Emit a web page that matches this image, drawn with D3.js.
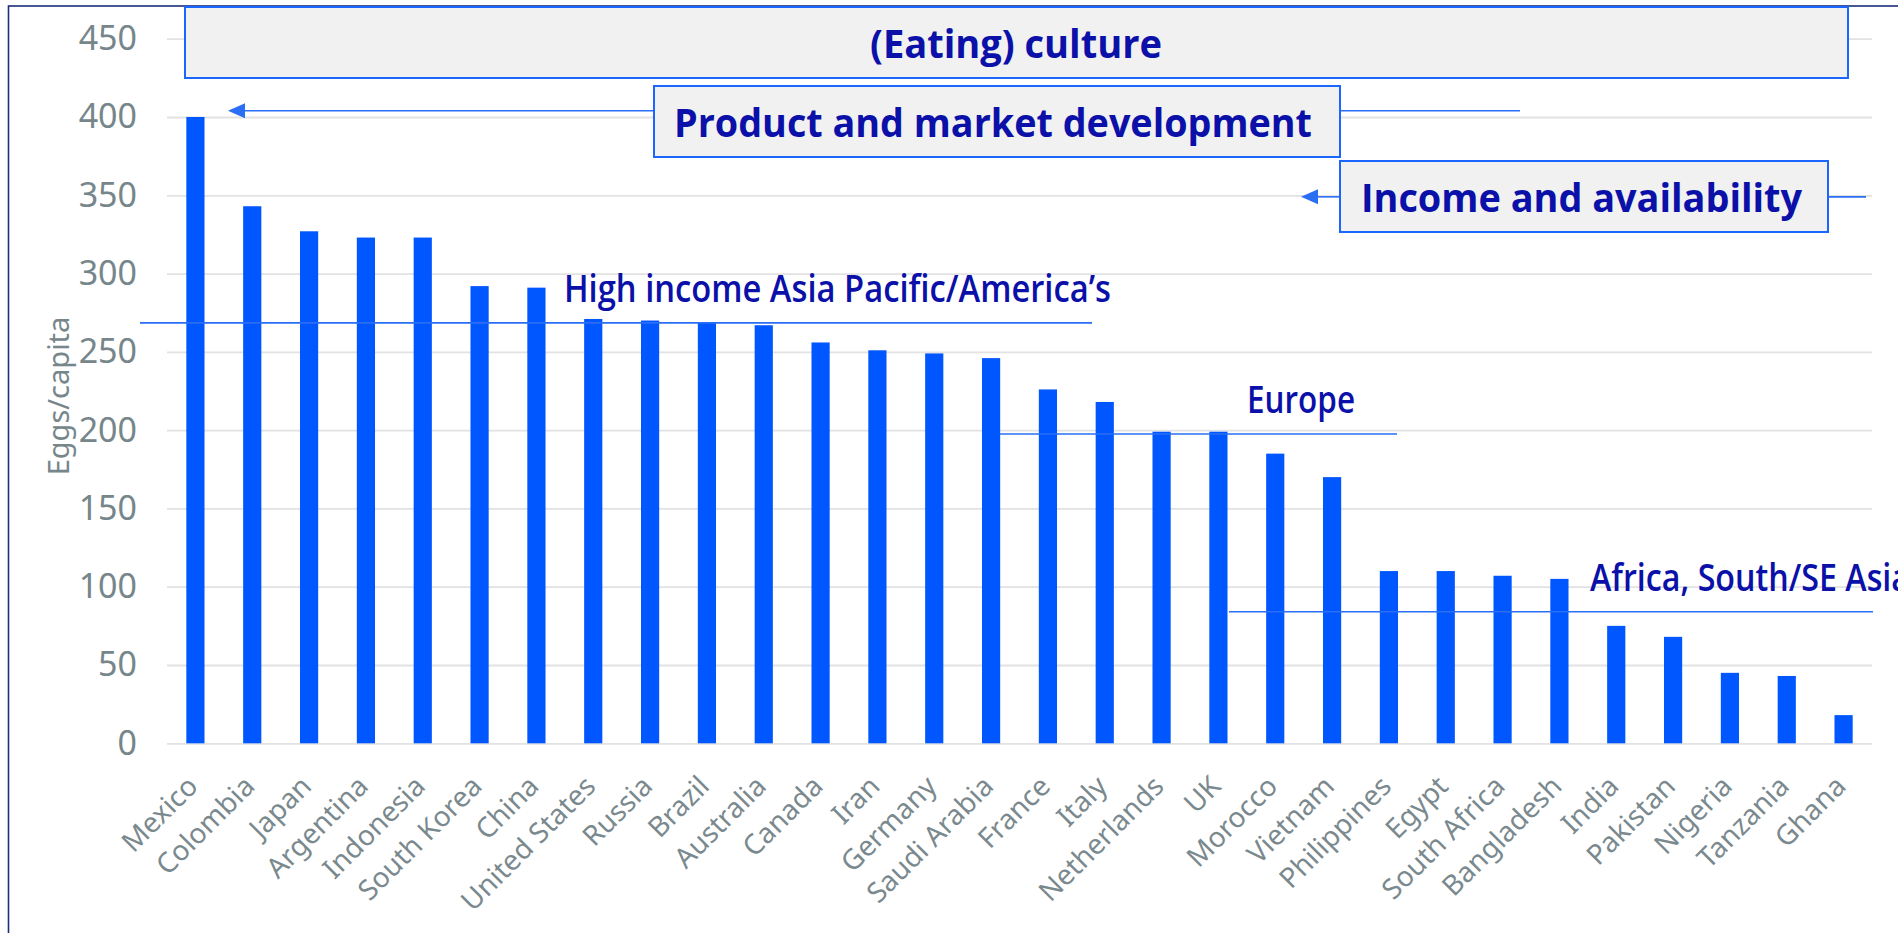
<!DOCTYPE html>
<html lang="en">
<head>
    <meta charset="UTF-8">
    <title>Eggs per capita</title>
    <script src="https://d3js.org/d3.v7.min.js"></script>
    <style>
        body {
            margin: 0;
            padding: 0;
            background: #fff;
            overflow: hidden;
        }
        .tick text {
            font-family: "Noto Sans", sans-serif;
            fill: #76868b;
        }
        .note {
            fill: #0a10a8;
            font-family: "Open Sans", sans-serif;
        }
    </style>
</head>
<body>
    <div id="chart"></div>

    <script>
        const countries = ["Mexico", "Colombia", "Japan", "Argentina", "Indonesia", "South Korea", "China",
            "United States", "Russia", "Brazil", "Australia", "Canada", "Iran", "Germany", "Saudi Arabia",
            "France", "Italy", "Netherlands", "UK", "Morocco", "Vietnam", "Philippines", "Egypt",
            "South Africa", "Bangladesh", "India", "Pakistan", "Nigeria", "Tanzania", "Ghana"];
        const eggs = [400, 343, 327, 323, 323, 292, 291, 271, 270, 269, 267, 256, 251, 249, 246,
            226, 218, 199, 199, 185, 170, 110, 110, 107, 105, 75, 68, 45, 43, 18];
        const yTicks = [0, 50, 100, 150, 200, 250, 300, 350, 400, 450];

        // region labels with the level of their line
        const regions = [
            { label: "High income Asia Pacific/America’s", level: 268.5, x1: 140, x2: 1092, tx: 564, tw: 547 },
            { label: "Europe", level: 197.5, x1: 1000, x2: 1397, tx: 1247, tw: 108 },
            { label: "Africa, South/SE Asia", level: 84, x1: 1229, x2: 1873, tx: 1590, tw: 320 }
        ];

        const width = 1898, height = 933;
        const svg = d3.select("#chart").append("svg")
            .attr("width", width)
            .attr("height", height);

        const x = d3.scaleBand()
            .domain(countries)
            .range([167, 1872])
            .paddingInner(0.68)
            .paddingOuter(0.34);

        const y = d3.scaleLinear()
            .domain([0, 450])
            .range([743.3, 38.7]);

        // outer frame (only top and left edge show)
        svg.append("rect")
            .attr("x", 8.5).attr("y", 6)
            .attr("width", 2000).attr("height", 1000)
            .attr("fill", "none")
            .attr("stroke", "#1b2f7a")
            .attr("stroke-width", 1.6);

        // y axis with gridlines
        const yAxis = svg.append("g")
            .attr("transform", "translate(167,0)")
            .call(d3.axisLeft(y).tickValues(yTicks).tickSize(-(1872 - 167)).tickPadding(30));
        yAxis.select(".domain").remove();
        yAxis.selectAll(".tick line").attr("stroke", "#e2e2e2").attr("stroke-width", 1.8);
        yAxis.selectAll(".tick text").style("font-size", "34px");

        svg.append("text")
            .attr("transform", "translate(69,396) rotate(-90)")
            .attr("text-anchor", "middle")
            .style("font-family", "Noto Sans, sans-serif")
            .style("font-size", "29px")
            .style("fill", "#76868b")
            .text("Eggs/capita");

        // bars
        svg.append("g")
            .selectAll("rect")
            .data(countries)
            .enter().append("rect")
            .attr("x", d => x(d))
            .attr("width", x.bandwidth())
            .attr("y", (d, i) => y(eggs[i]))
            .attr("height", (d, i) => y(0) - y(eggs[i]))
            .attr("fill", "#0057ff");

        // x labels
        svg.append("g")
            .selectAll("text")
            .data(countries)
            .enter().append("text")
            .attr("transform", d => `translate(${x(d) + x.bandwidth() / 2 + 4},788) rotate(-45)`)
            .attr("text-anchor", "end")
            .style("font-family", "Noto Sans, sans-serif")
            .style("font-size", "28px")
            .style("fill", "#7a898e")
            .text(d => d);

        // region lines + labels
        regions.forEach(r => {
            svg.append("line")
                .attr("x1", r.x1).attr("x2", r.x2)
                .attr("y1", y(r.level)).attr("y2", y(r.level))
                .attr("stroke", "#2a6ef5")
                .attr("stroke-width", 1.6);
            svg.append("text")
                .attr("class", "note")
                .attr("x", r.tx)
                .attr("y", y(r.level) - 21)
                .attr("textLength", r.tw)
                .attr("lengthAdjust", "spacingAndGlyphs")
                .style("font-size", "37px")
                .style("font-weight", 600)
                .text(r.label);
        });

        // driver boxes
        const arrowColor = "#2a6ef5";

        function arrowLine(x1, x2, yy) {
            svg.append("line")
                .attr("x1", x1 + 16).attr("x2", x2)
                .attr("y1", yy).attr("y2", yy)
                .attr("stroke", arrowColor)
                .attr("stroke-width", 1.6);
            svg.append("path")
                .attr("d", `M${x1},${yy} L${x1 + 17},${yy - 7.5} L${x1 + 17},${yy + 7.5} Z`)
                .attr("fill", arrowColor);
        }

        function box(x0, y0, x1, y1) {
            svg.append("rect")
                .attr("x", x0).attr("y", y0)
                .attr("width", x1 - x0).attr("height", y1 - y0)
                .attr("fill", "#f1f1f1")
                .attr("stroke", "#1a66ff")
                .attr("stroke-width", 2);
        }

        // Product and market development
        arrowLine(228, 654, y(404));
        svg.append("line")
            .attr("x1", 1340).attr("x2", 1520)
            .attr("y1", y(404)).attr("y2", y(404))
            .attr("stroke", arrowColor).attr("stroke-width", 1.6);

        // Income and availability
        arrowLine(1301, 1340, y(349));
        svg.append("line")
            .attr("x1", 1828).attr("x2", 1866)
            .attr("y1", y(349)).attr("y2", y(349))
            .attr("stroke", arrowColor).attr("stroke-width", 1.6);

        box(185, 7, 1848, 78);
        box(654, 86, 1340, 157);
        box(1340, 161, 1828, 232);

        const boldNotes = [
            { text: "(Eating) culture", x: 1016, y: 58, w: 292, anchor: "middle" },
            { text: "Product and market development", x: 674, y: 137, w: 638, anchor: "start" },
            { text: "Income and availability", x: 1361, y: 212, w: 441, anchor: "start" }
        ];
        boldNotes.forEach(n => {
            svg.append("text")
                .attr("class", "note")
                .attr("x", n.x).attr("y", n.y)
                .attr("text-anchor", n.anchor)
                .attr("textLength", n.w)
                .attr("lengthAdjust", "spacingAndGlyphs")
                .style("font-size", "40px")
                .style("font-weight", 700)
                .text(n.text);
        });
    </script>
</body>
</html>
